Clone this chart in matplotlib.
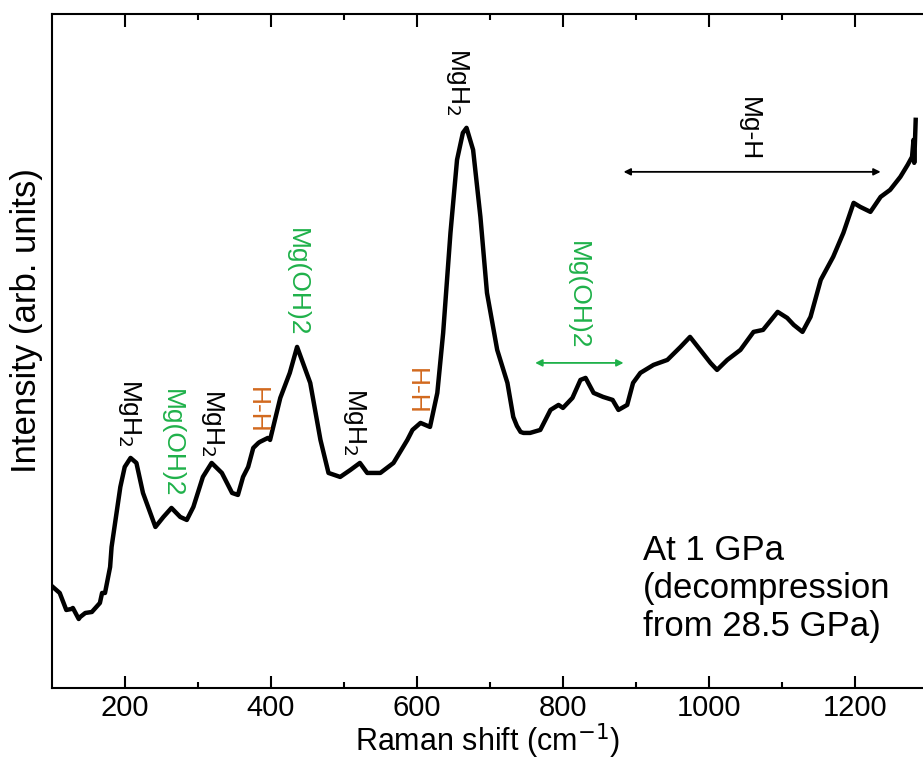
import matplotlib.pyplot as plt

plt.rcParams['font.family'] = ['Liberation Sans', 'DejaVu Sans']

# Raman spectrum (x in cm-1, intensity in arb. units)
shift = [100, 111, 120, 127, 129, 137, 139, 146, 155, 166, 169, 173, 180, 182,
         194, 200, 208, 216, 225, 242, 253, 264, 276, 285, 294, 307, 319, 333,
         347, 355, 362, 369, 376, 383, 385, 396, 399, 413, 426, 436, 454, 468,
         479, 495, 509, 522, 532, 550, 568, 587, 594, 605, 618, 628, 636, 646,
         655, 663, 668, 677, 687, 696, 710, 724, 732, 737, 742, 746, 755, 769,
         783, 794, 800, 813, 824, 831, 842, 855, 868, 876, 888, 896, 906, 924,
         943, 961, 974, 988, 1002, 1011, 1025, 1043, 1061, 1074, 1094, 1107,
         1116, 1128, 1139, 1153, 1170, 1184, 1198, 1207, 1221, 1235, 1248,
         1262, 1272, 1278, 1280, 1281, 1283]
intensity = [102, 95, 78, 79, 80, 69, 71, 75, 76, 85, 95, 95, 121, 141,
             201, 221, 230, 225, 195, 161, 171, 180, 171, 168, 181, 211, 225, 215,
             195, 193, 211, 221, 240, 245, 246, 250, 248, 290, 315, 341, 305, 248,
             215, 211, 218, 225, 215, 215, 225, 248, 258, 265, 261, 295, 355, 455,
             528, 555, 560, 538, 471, 395, 338, 305, 271, 262, 256, 255, 255, 258,
             278, 283, 280, 290, 308, 310, 295, 291, 288, 278, 283, 305, 315, 323,
             328, 341, 351, 338, 325, 318, 328, 338, 356, 358, 376, 370,
             363, 356, 371, 408, 431, 455, 485, 481, 476, 491, 498,
             511, 523, 531, 548, 525, 568]

# peak labels: text, x, y, colour
labels = ["MgH$_2$", "Mg(OH)2", "MgH$_2$", "H-H", "Mg(OH)2", "MgH$_2$",
          "H-H", "MgH$_2$", "Mg(OH)2", "Mg-H"]
label_x = [207, 265, 320, 381, 436, 514, 599, 655, 821, 1055]
label_y = [275, 245, 265, 278, 406, 266, 297, 606, 393, 559]
black, green, orange = "black", "#1fb14a", "#d2691e"
label_colors = [black, green, black, orange, green, black, orange, black,
                green, black]

# range arrows: (x start, x end, y)
arrow_green = (762, 883, 325)
arrow_black = (883, 1235, 516)

fig = plt.figure(figsize=(9.23, 7.67), dpi=100)
ax = fig.add_axes([0.056, 0.103, 0.944, 0.879])

ax.plot(shift, intensity, color="black", lw=3.2)

for txt, x, y, c in zip(labels, label_x, label_y, label_colors):
    ax.text(x, y, txt, rotation=270, ha="center", va="center",
            color=c, fontsize=19)

for (x0, x1, y), c in [(arrow_green, green), (arrow_black, black)]:
    ax.annotate("", xy=(x1, y), xytext=(x0, y),
                arrowprops=dict(arrowstyle="<|-|>", color=c, lw=1.3,
                                mutation_scale=10, shrinkA=0, shrinkB=0))

ax.text(910, 154, "At 1 GPa\n(decompression\nfrom 28.5 GPa)",
        fontsize=25, ha="left", va="top", linespacing=1.2)

ax.set_xlim(100, 1293)
ax.set_ylim(0, 674)
ax.set_xticks(range(200, 1300, 200))
ax.set_xticks(range(300, 1300, 200), minor=True)
ax.set_yticks([])
ax.tick_params(axis="x", which="both", direction="in", top=True,
               labelsize=21, width=1.5)
ax.tick_params(axis="x", which="major", length=9, pad=4)
ax.tick_params(axis="x", which="minor", length=4.5)
for s in ax.spines.values():
    s.set_linewidth(1.5)
ax.spines["right"].set_visible(False)

ax.set_xlabel("Raman shift (cm$^{-1}$)", fontsize=22, labelpad=0)
ax.set_ylabel("Intensity (arb. units)", fontsize=25)
ax.yaxis.set_label_coords(-0.01, 0.545)

fig.savefig("out.png", dpi=100)
